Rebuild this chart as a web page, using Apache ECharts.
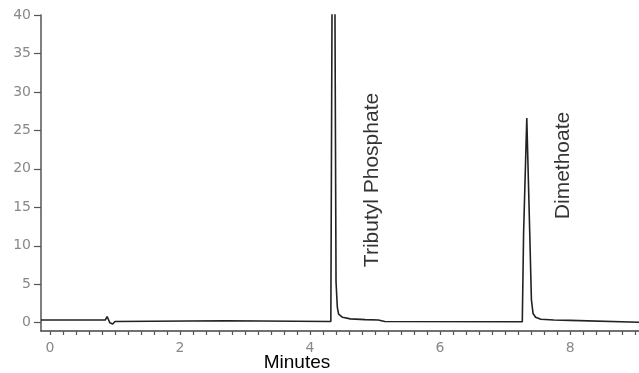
<!DOCTYPE html>
<html>
<head>
<meta charset="utf-8">
<script src="https://cdn.jsdelivr.net/npm/echarts@6/dist/echarts.min.js"></script>
<style>
html,body{margin:0;padding:0;background:#fff;}
#chart{width:639px;height:373px;}
</style>
</head>
<body>
<div id="chart"></div>
<script>
// Chromatogram trace: [minutes, response]
var trace = [
  [-0.138, 0.35], [0.85, 0.35], [0.88, 0.8], [0.92, 0.0], [0.935, -0.17], [0.965, -0.17],
  [1.0, 0.15], [1.02, 0.3], [2.7, 0.25], [4.32, 0.15],
  [4.335, 0.2], [4.36, 90], [4.40, 5.3], [4.42, 2.0], [4.44, 1.1], [4.50, 0.7],
  [4.62, 0.5], [4.85, 0.4], [5.05, 0.35], [5.15, 0.15],
  [7.265, 0.12], [7.285, 11.7], [7.334, 26.6], [7.38, 11.5], [7.405, 3.0], [7.43, 1.2],
  [7.47, 0.7], [7.55, 0.45], [7.75, 0.35], [8.0, 0.3], [8.03, 0.1], [9.06, 0.05]
];
// Peak annotations: [minutes, response, name]
var peakLabels = [
  [4.954, 18.55, 'Tributyl Phosphate'],
  [7.89, 20.44, 'Dimethoate']
];
var xTickValues = [0,0.2,0.4,0.6,0.8,1,1.2,1.4,1.6,1.8,2,2.2,2.4,2.6,2.8,3,3.2,3.4,3.6,3.8,4,4.2,4.4,4.6,4.8,5,5.2,5.4,5.6,5.8,6,6.2,6.4,6.6,6.8,7,7.2,7.4,7.6,7.8,8,8.2,8.4,8.6,8.8,9];
var xLabelValues = [0, 2, 4, 6, 8];
var yTickValues = [0, 5, 10, 15, 20, 25, 30, 35, 40];
var xTitle = 'Minutes';

var chart = echarts.init(document.getElementById('chart'), null, {renderer: 'canvas'});
chart.setOption({
  animation: false,
  backgroundColor: '#fff',
  grid: {left: 41, right: 0, top: 15, bottom: 42, containLabel: false},
  xAxis: {
    type: 'value', min: -0.138, max: 9.06,
    axisLine: {show: true, onZero: false, lineStyle: {color: '#444', width: 1.5}},
    axisTick: {show: true, customValues: xTickValues, length: 4, lineStyle: {color: '#555', width: 1.2}},
    axisLabel: {show: true, customValues: xLabelValues, margin: 10, color: '#888', fontSize: 14, fontFamily: 'DejaVu Sans'},
    splitLine: {show: false}
  },
  yAxis: {
    type: 'value', min: -1.08, max: 40,
    axisLine: {show: true, onZero: false, lineStyle: {color: '#555', width: 1.5}},
    axisTick: {show: true, customValues: yTickValues, length: 7, lineStyle: {color: '#555', width: 1.2}},
    axisLabel: {show: true, customValues: yTickValues, margin: 10, color: '#888', fontSize: 14, fontFamily: 'DejaVu Sans'},
    splitLine: {show: false}
  },
  graphic: [{
    type: 'text', x: 297, y: 363,
    style: {text: xTitle, fill: '#000', font: '19px "Liberation Sans", Arial, sans-serif', textAlign: 'center', textVerticalAlign: 'middle'}
  }],
  series: [{
    type: 'line', data: trace, symbol: 'none', clip: true,
    lineStyle: {color: '#222', width: 1.6}
  }, {
    type: 'scatter', data: peakLabels, symbolSize: 0,
    label: {
      show: true, position: 'inside', rotate: 90,
      formatter: function (p) { return p.value[2]; },
      color: '#000', fontSize: 21, fontFamily: '"Liberation Sans", Arial, sans-serif'
    }
  }]
});
</script>
</body>
</html>
